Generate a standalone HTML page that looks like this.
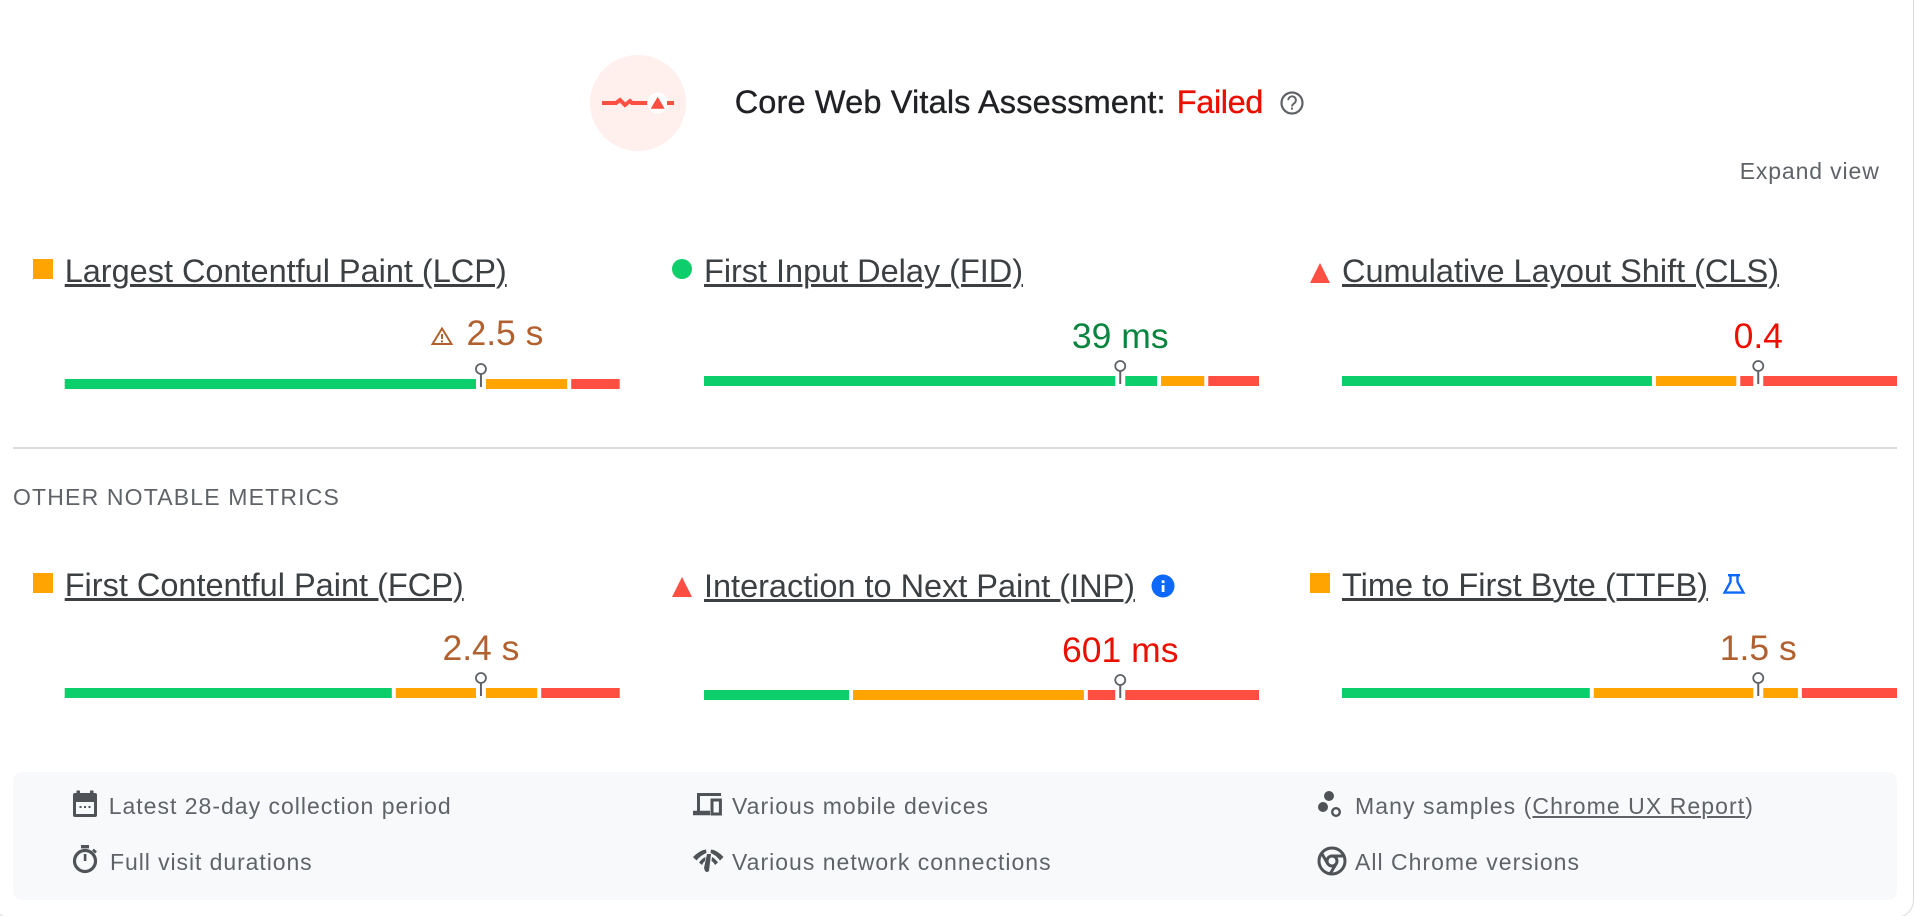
<!DOCTYPE html>
<html lang="en">
<head>
<meta charset="utf-8">
<title>Core Web Vitals Assessment</title>
<style>
html,body{margin:0;padding:0;background:#fff;width:1914px;height:916px;overflow:hidden}
#stage{position:relative;width:1914px;height:916px;overflow:hidden;font-family:"Liberation Sans",sans-serif}
#card{position:absolute;left:-8px;top:-30px;width:1920px;height:946px;border:1px solid #dadce0;border-radius:18px;background:#fff}
#panel{position:absolute;left:13px;top:772px;width:1884px;height:128px;border-radius:9px;background:#f8f9fb}
#divider{position:absolute;left:13px;top:447px;width:1884px;height:2px;background:#dadce0}
.t{position:absolute;white-space:nowrap;line-height:1;font-family:"Liberation Sans",sans-serif}
.head{font-size:32.5px;color:#202124;top:85.5px;-webkit-text-stroke:0.35px currentColor}
.metric{font-size:32.5px;color:#3c4043;text-decoration:underline;text-decoration-thickness:3px;text-underline-offset:2px}
.small{font-size:23px;color:#5f6368}
.small a{color:inherit;text-decoration:underline;text-decoration-thickness:1.5px;text-underline-offset:2px}
.value{position:absolute;white-space:nowrap;line-height:1;font-size:35.5px;transform:translateX(-50%)}
svg#marks{position:absolute;left:0;top:0}
</style>
</head>
<body>
<div id="stage">
  <div id="card"></div>
  <div id="panel"></div>
  <div id="divider"></div>

  <div class="t head" data-fit="431" style="left:734.7px">Core Web Vitals Assessment:</div>
  <div class="t head" data-fit="86.2" style="left:1176.8px;color:#eb0f00">Failed</div>
  <div class="t small" data-fit="140" style="left:1739.7px;top:159.5px">Expand view</div>
  <div class="t small" data-fit="327" style="left:13px;top:486px">OTHER NOTABLE METRICS</div>

  <div class="t metric" data-fit="442" style="left:64.7px;top:255px">Largest Contentful Paint (LCP)</div>
  <div class="t metric" data-fit="319" style="left:704px;top:255px">First Input Delay (FID)</div>
  <div class="t metric" data-fit="437" style="left:1342px;top:255px">Cumulative Layout Shift (CLS)</div>
  <div class="t metric" data-fit="399" style="left:64.7px;top:568.5px">First Contentful Paint (FCP)</div>
  <div class="t metric" data-fit="431" style="left:704px;top:569.5px">Interaction to Next Paint (INP)</div>
  <div class="t metric" data-fit="366" style="left:1342px;top:568.5px">Time to First Byte (TTFB)</div>

  <div class="t small" data-fit="343" style="left:108.7px;top:794.5px">Latest 28-day collection period</div>
  <div class="t small" data-fit="202.6" style="left:110px;top:850.5px">Full visit durations</div>
  <div class="t small" data-fit="257" style="left:732px;top:794.5px">Various mobile devices</div>
  <div class="t small" data-fit="319.6" style="left:732px;top:850.5px">Various network connections</div>
  <div class="t small" data-fit="399" style="left:1355px;top:794.5px">Many samples (<a>Chrome UX Report</a>)</div>
  <div class="t small" data-fit="225" style="left:1355px;top:850.5px">All Chrome versions</div>

  <svg id="marks" width="1914" height="916" viewBox="0 0 1914 916">
    <g>
      <circle cx="638" cy="103" r="48" fill="#fff0ee"/>
      <path d="M602 103H616l4-3 5 5 5-4 2 2H650" fill="none" stroke="#ff4e42" stroke-width="4"/>
      <circle cx="657.7" cy="103" r="10.5" fill="#fff"/>
      <path d="M650.7 108.7L657.7 96.7L664.7 108.7Z" fill="#ff4e42"/>
      <path d="M667 103H674" stroke="#ff4e42" stroke-width="4"/>
    </g>
    <g>
      <circle cx="1292" cy="103" r="10.5" fill="none" stroke="#5f6368" stroke-width="2.2"/>
      <path d="M1288.3 100.2a3.8 3.8 0 1 1 5.9 3.1c-1.4 1-2.2 1.6-2.2 3.2" fill="none" stroke="#5f6368" stroke-width="1.9"/>
      <rect x="1291" y="107.6" width="2" height="2" fill="#5f6368"/>
    </g>

    <rect x="33" y="259" width="20" height="20" fill="#ffa400"/>
    <circle cx="682" cy="269" r="10" fill="#0cce6b"/>
    <path d="M1310 283L1320 263L1330 283Z" fill="#ff4e42"/>
    <rect x="33" y="573" width="20" height="20" fill="#ffa400"/>
    <path d="M672 597L682 577L692 597Z" fill="#ff4e42"/>
    <rect x="1310" y="573" width="20" height="20" fill="#ffa400"/>

    <g>
      <path d="M432.5 344L442 328.5L451.5 344Z" fill="none" stroke="#b1612f" stroke-width="2"/>
      <rect x="441" y="334" width="2" height="5" fill="#b1612f"/>
      <rect x="441" y="340.4" width="2" height="2" fill="#b1612f"/>
    </g>
    <g>
      <circle cx="1163" cy="586" r="11.5" fill="#0b68fb"/>
      <rect x="1161.7" y="585" width="2.8" height="7" fill="#fff"/>
      <rect x="1161.7" y="580.3" width="2.8" height="2.8" fill="#fff"/>
    </g>
    <g fill="none" stroke="#0b68fb" stroke-width="2.4">
      <path d="M1728 575.2H1740"/>
      <path d="M1730.5 575.2V582L1724.6 592.6H1743.4L1737.5 582V575.2"/>
    </g>

    <g fill="#4f5256">
      <rect x="73" y="793" width="24" height="24" rx="2"/>
      <rect x="76.5" y="790.5" width="3.5" height="5"/>
      <rect x="90" y="790.5" width="3.5" height="5"/>
      <rect x="76" y="802" width="18" height="12" fill="#f8f9fb"/>
      <rect x="79.5" y="806" width="2" height="2"/>
      <rect x="84" y="806" width="2" height="2"/>
      <rect x="88.5" y="806" width="2" height="2"/>
    </g>
    <g>
      <circle cx="85" cy="861" r="10.5" fill="none" stroke="#4f5256" stroke-width="3.2"/>
      <rect x="81" y="845" width="8" height="3.4" fill="#4f5256"/>
      <rect x="83.8" y="854" width="2.6" height="7" fill="#4f5256"/>
      <path d="M93 849.6L96 852.6" stroke="#4f5256" stroke-width="2.6"/>
    </g>
    <g fill="none" stroke="#4f5256">
      <path d="M721 794.5H698.5V812" stroke-width="3"/>
      <path d="M693 813H710" stroke-width="4.4"/>
      <rect x="712" y="800" width="8.4" height="14" stroke-width="3"/>
    </g>
    <g fill="#4f5256">
      <path d="M693 857Q700 850 706 849.5L706.5 853Q701 855 696.5 860.5Z"/>
      <path d="M711 849.5Q717 850 723.5 857L720 860.5Q716 855 710.5 853Z"/>
      <path d="M699 862.5Q702 858.5 705.5 857L705 861Q703.5 862 702 865Z"/>
      <path d="M712 857Q715 858.5 718 862.5L715 865Q713.5 862 711.5 861Z"/>
      <path d="M707 854L711 854L709 871Q707 873 705 871L704 868Z"/>
    </g>
    <g>
      <circle cx="1329" cy="796" r="5" fill="#4f5256"/>
      <circle cx="1323" cy="807" r="5" fill="#4f5256"/>
      <circle cx="1336" cy="812" r="3.8" fill="none" stroke="#4f5256" stroke-width="2.4"/>
    </g>
    <g fill="none" stroke="#4f5256" stroke-width="3">
      <circle cx="1332" cy="861" r="13"/>
      <circle cx="1332" cy="861" r="5"/>
      <path d="M1332 856H1344M1327.6 863.5L1321.5 853M1336.4 863.5L1330 874"/>
    </g>
    <g id="bars"></g>
  </svg>
</div>
<script>
const metricNames = ['lcp', 'fid', 'cls', 'fcp', 'inp', 'ttfb'];
const goodShare = [75, 82, 56.2, 59.3, 26.5, 45];
const needsShare = [15.9, 8.5, 15.2, 26.2, 42.3, 37.5];
const poorShare = [9.1, 9.5, 28.6, 14.5, 31.2, 17.5];
const markerShare = [75, 75, 75, 75, 75, 75];
const valueLabels = ['2.5 s', '39 ms', '0.4', '2.4 s', '601 ms', '1.5 s'];
const valueRatings = ['needs', 'good', 'poor', 'needs', 'poor', 'needs'];

const ratingInk = { good: '#0a8540', needs: '#b1612f', poor: '#eb0f00' };
const bandFill = { good: '#0cce6b', needs: '#ffa400', poor: '#ff4e42' };
const SVGNS = 'http://www.w3.org/2000/svg';
const BAR_WIDTH = 555;
const BAR_HEIGHT = 10;
const GAP = 2;
const NOTCH = 5;

function panelLeft(i) {
  const col = i % 3;
  if (col === 0) return 64.7;
  if (col === 1) return 704;
  return 1342;
}
function panelTop(i) {
  if (i === 0) return 379;
  if (i === 1 || i === 2) return 376;
  if (i === 4) return 690;
  return 688;
}
function xScale(i, share) { return panelLeft(i) + share / 100 * BAR_WIDTH; }

function addRect(parent, x0, x1, y, fill, name) {
  if (x1 <= x0) return;
  const r = document.createElementNS(SVGNS, 'rect');
  r.setAttribute('x', x0);
  r.setAttribute('y', y);
  r.setAttribute('width', x1 - x0);
  r.setAttribute('height', BAR_HEIGHT);
  r.setAttribute('fill', fill);
  
  
  parent.appendChild(r);
}

const barsLayer = document.getElementById('bars');
const stage = document.getElementById('stage');

metricNames.forEach(function (metric, i) {
  const shares = [goodShare[i], needsShare[i], poorShare[i]];
  const bands = ['good', 'needs', 'poor'];
  const top = panelTop(i);
  const m = xScale(i, markerShare[i]);
  let cum = 0;
  bands.forEach(function (band, b) {
    const start = xScale(i, cum) + (b === 0 ? 0 : GAP);
    cum += shares[b];
    const end = xScale(i, cum) - (b === 2 ? 0 : GAP);
    const name = 'bar-' + metric + '-' + band;
    addRect(barsLayer, start, Math.min(end, m - NOTCH), top, bandFill[band], name);
    addRect(barsLayer, Math.max(start, m + NOTCH), end, top, bandFill[band], name + '-after-marker');
  });

  const stem = document.createElementNS(SVGNS, 'line');
  stem.setAttribute('x1', m);
  stem.setAttribute('x2', m);
  stem.setAttribute('y1', top - 5);
  stem.setAttribute('y2', top + 8);
  stem.setAttribute('stroke', '#5f6368');
  stem.setAttribute('stroke-width', '2');
  
  
  barsLayer.appendChild(stem);

  const pin = document.createElementNS(SVGNS, 'circle');
  pin.setAttribute('cx', m);
  pin.setAttribute('cy', top - 10);
  pin.setAttribute('r', '5');
  pin.setAttribute('fill', '#fff');
  pin.setAttribute('stroke', '#5f6368');
  pin.setAttribute('stroke-width', '1.8');
  
  
  barsLayer.appendChild(pin);

  const label = document.createElement('div');
  label.className = 'value';
  label.textContent = valueLabels[i];
  label.style.color = ratingInk[valueRatings[i]];
  const lift = metric === 'lcp' ? 6 : 0;
  label.style.left = (m + (metric === 'lcp' ? 24 : 0)) + 'px';
  label.style.top = (top - 56.8 - lift) + 'px';
  
  
  stage.appendChild(label);
});

document.querySelectorAll('[data-fit]').forEach(function (el) {
  const target = parseFloat(el.getAttribute('data-fit'));
  const w = el.getBoundingClientRect().width;
  el.style.letterSpacing = ((target - w) / el.textContent.length) + 'px';
});
</script>
</body>
</html>
